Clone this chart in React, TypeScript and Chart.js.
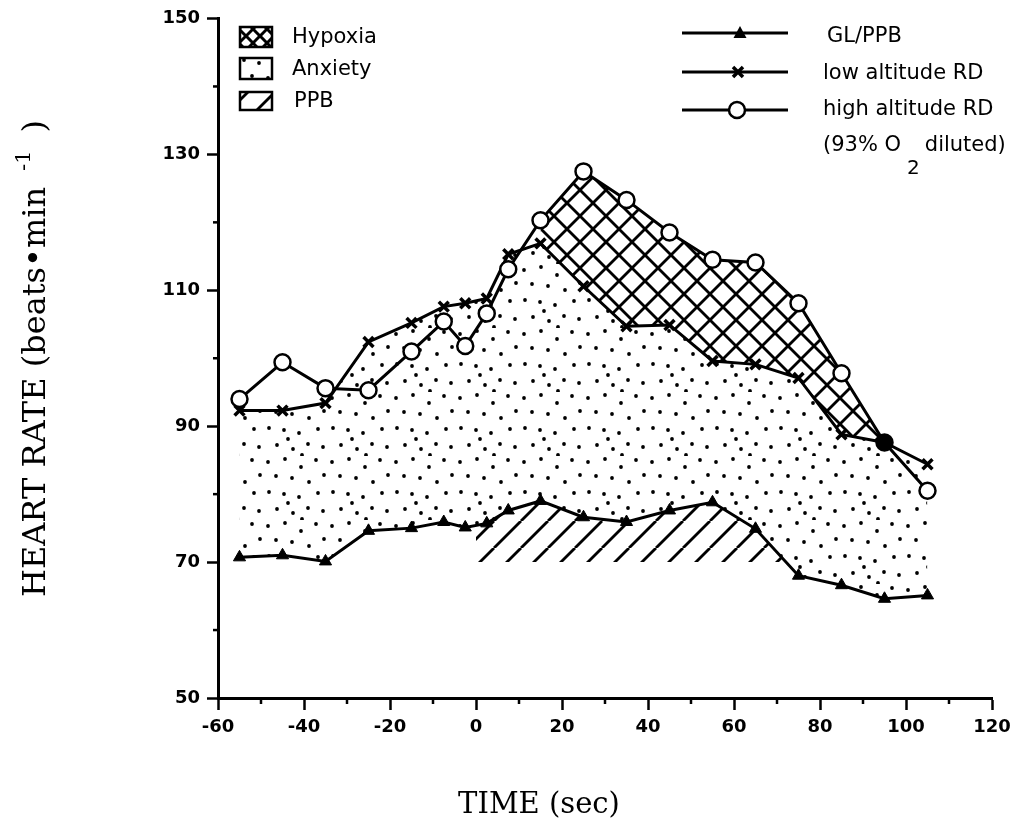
import React, { useEffect, useRef } from 'react';
import { Chart, registerables } from 'chart.js';

Chart.register(...registerables);

// ---- data ----
const times = [-55, -45, -35, -25, -15, -7.5, -2.5, 2.5, 7.5, 15, 25, 35, 45, 55, 65, 75, 85, 95, 105];
const glPpb = [70.7, 71.0, 70.1, 74.6, 75.0, 75.9, 75.1, 75.7, 77.6, 79.0, 76.6, 75.9, 77.6, 78.8, 74.9, 68.0, 66.6, 64.6, 65.1];
const lowAltRD = [92.3, 92.3, 93.4, 102.4, 105.2, 107.6, 108.1, 108.8, 115.3, 116.9, 110.6, 104.7, 104.9, 99.6, 99.1, 97.1, 88.8, 87.6, 84.4];
const highAltRD = [94.0, 99.4, 95.6, 95.3, 101.0, 105.4, 101.8, 106.6, 113.1, 120.3, 127.5, 123.3, 118.5, 114.5, 114.1, 108.1, 97.8, 87.6, 80.5];
const hypoxiaStart = 15; // hypoxia shading begins at this time
const ppbTimes = [0, 75];
const ppbBase = [70, 70];

const xTickValues = [-60, -40, -20, 0, 20, 40, 60, 80, 100, 120];
const yTickValues = [50, 70, 90, 110, 130, 150];
const xMinorTicks = [-50, -30, -10, 10, 30, 50, 70, 90, 110];
const yMinorTicks = [60, 80, 100, 120, 140];

const areaLabels = ['Hypoxia', 'Anxiety', 'PPB'];
const lineLabels = ['GL/PPB', 'low altitude RD', 'high altitude RD'];
const xTitle = 'TIME (sec)';

// ---- patterns ----
function tile(w: number, h: number) {
  const c = document.createElement('canvas');
  c.width = w;
  c.height = h;
  return c;
}
function makeCross(ctx: CanvasRenderingContext2D, T: number, lw: number) {
  const c = tile(T, T);
  const g = c.getContext('2d')!;
  g.strokeStyle = '#000';
  g.lineWidth = lw;
  for (const o of [-T, 0, T]) {
    g.beginPath(); g.moveTo(o, 0); g.lineTo(o + T, T); g.stroke();
    g.beginPath(); g.moveTo(o, T); g.lineTo(o + T, 0); g.stroke();
  }
  return ctx.createPattern(c, 'repeat')!;
}
function makeHatch(ctx: CanvasRenderingContext2D) {
  const T = 27;
  const c = tile(T, T);
  const g = c.getContext('2d')!;
  g.strokeStyle = '#000';
  g.lineWidth = 2.8;
  for (const o of [-T, 0, T]) {
    g.beginPath(); g.moveTo(o, T); g.lineTo(o + T, 0); g.stroke();
  }
  return ctx.createPattern(c, 'repeat')!;
}
function makeDots(ctx: CanvasRenderingContext2D) {
  const T = 64;
  const c = tile(T, T);
  const g = c.getContext('2d')!;
  g.fillStyle = '#000';
  const pts = [
    [4, 6], [21, 3], [37, 11], [52, 4], [60, 19], [12, 20], [28, 22], [45, 26],
    [5, 36], [20, 38], [35, 41], [54, 37], [13, 53], [29, 57], [44, 52], [59, 55],
    [38, 63], [24, 47],
  ];
  for (const [x, y] of pts) {
    g.beginPath(); g.arc(x, y, 1.9, 0, Math.PI * 2); g.fill();
  }
  return ctx.createPattern(c, 'repeat')!;
}

const toXY = (xs: number[], ys: number[]) => xs.map((x, i) => ({ x, y: ys[i] }));

const App = () => {
  const ref = useRef<HTMLCanvasElement>(null);
  useEffect(() => {
    const canvas = ref.current!;
    const ctx0 = canvas.getContext('2d')!;
    const dots = makeDots(ctx0);
    const cross = makeCross(ctx0, 26, 2.8);
    const crossSwatch = makeCross(ctx0, 14, 3);
    const hatch = makeHatch(ctx0);

    const hypoxiaTop = toXY(times, highAltRD).filter((p) => p.x >= hypoxiaStart);

    const extras = {
      id: 'extras',
      afterDraw(chart: any) {
        const ctx: CanvasRenderingContext2D = chart.ctx;
        const xs = chart.scales.x;
        const ys = chart.scales.y;
        const area = chart.chartArea;
        ctx.save();
        ctx.strokeStyle = '#000';
        ctx.fillStyle = '#000';
        // minor ticks
        ctx.lineWidth = 2.5;
        for (const v of xMinorTicks) {
          const p = xs.getPixelForValue(v);
          ctx.beginPath(); ctx.moveTo(p, area.bottom); ctx.lineTo(p, area.bottom + 6); ctx.stroke();
        }
        for (const v of yMinorTicks) {
          const p = ys.getPixelForValue(v);
          ctx.beginPath(); ctx.moveTo(area.left - 5, p); ctx.lineTo(area.left, p); ctx.stroke();
        }

        // y title
        ctx.save();
        ctx.translate(37, 589);
        ctx.rotate(-Math.PI / 2);
        ctx.textAlign = 'left';
        ctx.textBaseline = 'alphabetic';
        ctx.font = '32px "DejaVu Serif"';
        const main = 'HEART RATE (beats\u2022min';
        ctx.fillText(main, 0, 0);
        let w = ctx.measureText(main).width + 16;
        ctx.font = '21px "DejaVu Serif"';
        ctx.fillText('-1', w, -15);
        w += ctx.measureText('-1').width + 18;
        ctx.font = '32px "DejaVu Serif"';
        ctx.fillText(')', w, 0);
        ctx.restore();

        // x title
        ctx.font = '29px "DejaVu Serif"';
        ctx.textAlign = 'center';
        ctx.textBaseline = 'alphabetic';
        ctx.fillText(xTitle, 531, 805);

        // area legend
        const pats = [crossSwatch, dots, hatch];
        const boxY = [19, 50, 84];
        const boxH = [20, 21, 18];
        ctx.font = '21px "DejaVu Sans"';
        ctx.textAlign = 'left';
        ctx.textBaseline = 'middle';
        areaLabels.forEach((lab, i) => {
          ctx.fillStyle = pats[i];
          ctx.fillRect(232, boxY[i], 32, boxH[i]);
          ctx.lineWidth = 2.5;
          ctx.strokeRect(232, boxY[i], 32, boxH[i]);
          ctx.fillStyle = '#000';
          ctx.fillText(lab, i === 2 ? 286 : 284, boxY[i] + boxH[i] / 2 + 1);
        });

        // line legend
        const ly = [25, 64, 102];
        ctx.lineWidth = 3;
        ly.forEach((y) => {
          ctx.beginPath(); ctx.moveTo(674, y); ctx.lineTo(780, y); ctx.stroke();
        });
        // triangle
        ctx.beginPath();
        ctx.moveTo(732, 25 - 7); ctx.lineTo(732 + 6.5, 25 + 5); ctx.lineTo(732 - 6.5, 25 + 5); ctx.closePath();
        ctx.fill();
        // cross
        ctx.lineWidth = 3.5;
        ctx.beginPath();
        ctx.moveTo(725, 59); ctx.lineTo(735, 69); ctx.moveTo(735, 59); ctx.lineTo(725, 69); ctx.stroke();
        // circle
        ctx.beginPath();
        ctx.arc(729, 102, 8, 0, Math.PI * 2);
        ctx.fillStyle = '#fff'; ctx.fill();
        ctx.lineWidth = 2.5; ctx.stroke();
        ctx.fillStyle = '#000';
        ctx.font = '21px "DejaVu Sans"';
        ctx.fillText(lineLabels[0], 819, 29);
        ctx.fillText(lineLabels[1], 815, 66);
        ctx.fillText(lineLabels[2], 815, 102);
        const p1 = '(93% O';
        ctx.fillText(p1, 815, 138);
        let px = 815 + ctx.measureText(p1).width + 6;
        ctx.font = '20px "DejaVu Sans"';
        ctx.fillText('2', px, 161);
        px += ctx.measureText('2').width + 5;
        ctx.font = '21px "DejaVu Sans"';
        ctx.fillText('diluted)', px, 138);
        ctx.restore();
      },
    };

    const chart = new Chart(canvas, {
      type: 'line',
      data: {
        datasets: [
          {
            label: lineLabels[0],
            data: toXY(times, glPpb),
            borderColor: '#000',
            borderWidth: 3,
            pointStyle: 'triangle',
            pointRadius: 7,
            pointBackgroundColor: '#000',
            pointBorderColor: '#000',
            pointBorderWidth: 1,
            fill: false,
            tension: 0,
          },
          {
            label: lineLabels[1],
            data: toXY(times, lowAltRD),
            borderColor: '#000',
            borderWidth: 3,
            pointStyle: 'crossRot',
            pointRadius: 7,
            pointBorderColor: '#000',
            pointBorderWidth: 3.5,
            fill: { target: 0, above: dots, below: 'transparent' },
            tension: 0,
          },
          {
            label: lineLabels[2],
            data: toXY(times, highAltRD),
            borderColor: '#000',
            borderWidth: 3,
            pointStyle: 'circle',
            pointRadius: 8,
            pointBorderColor: '#000',
            pointBorderWidth: 2.5,
            pointBackgroundColor: (c: any) =>
              Math.abs(highAltRD[c.dataIndex] - lowAltRD[c.dataIndex]) < 0.5 ? '#000' : '#fff',
            fill: false,
            tension: 0,
            order: -2,
          },
          {
            label: areaLabels[0],
            data: hypoxiaTop,
            borderColor: 'transparent',
            borderWidth: 0,
            pointRadius: 0,
            fill: { target: 1, above: cross, below: 'transparent' },
            tension: 0,
            order: -1,
          },
          {
            label: areaLabels[2],
            data: toXY(ppbTimes, ppbBase),
            borderColor: 'transparent',
            borderWidth: 0,
            pointRadius: 0,
            fill: { target: 0, above: 'transparent', below: hatch },
            tension: 0,
          },
        ],
      } as any,
      options: {
        responsive: false,
        animation: false,
        events: [],
        layout: { padding: { left: 0, right: 18, top: 8, bottom: 0 } },
        plugins: {
          legend: { display: false },
          tooltip: { enabled: false },
          title: { display: false },
        },
        scales: {
          x: {
            type: 'linear',
            min: -60,
            max: 120,
            afterBuildTicks: (s: any) => { s.ticks = xTickValues.map((v) => ({ value: v })); },
            afterFit: (s: any) => { s.height = 121; s.paddingLeft = 0; s.paddingRight = 0; },
            border: { display: true, color: '#000', width: 3 },
            grid: { display: true, drawOnChartArea: false, drawTicks: true, tickLength: 12, tickWidth: 2.5, tickColor: '#000', color: '#000' },
            ticks: { color: '#000', font: { family: 'DejaVu Sans', size: 18, weight: 'bold' }, padding: 7, maxRotation: 0, autoSkip: false },
          },
          y: {
            type: 'linear',
            min: 50,
            max: 150,
            afterBuildTicks: (s: any) => { s.ticks = yTickValues.map((v) => ({ value: v })); },
            afterFit: (s: any) => { s.width = 210; s.paddingTop = 0; s.paddingBottom = 0; },
            border: { display: true, color: '#000', width: 3 },
            grid: { display: true, drawOnChartArea: false, drawTicks: true, tickLength: 11, tickWidth: 2.5, tickColor: '#000', color: '#000' },
            ticks: { color: '#000', font: { family: 'DejaVu Sans', size: 18, weight: 'bold' }, padding: 7, autoSkip: false },
          },
        },
      } as any,
      plugins: [extras],
    });
    return () => chart.destroy();
  }, []);

  return (
    <div style={{ width: 1002, height: 811 }}>
      <canvas ref={ref} width={1002} height={811} style={{ display: 'block' }} />
    </div>
  );
};

export default App;
